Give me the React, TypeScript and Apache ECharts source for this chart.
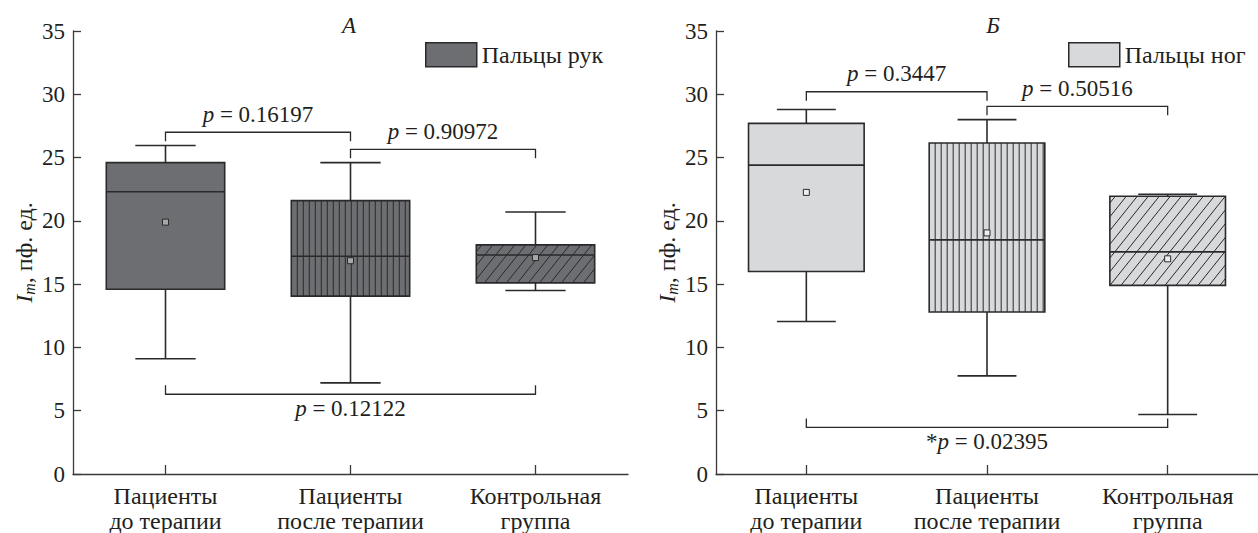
import React, { useEffect, useRef } from 'react';
import * as echarts from 'echarts';

// ---- categories & axis ----
const categories = ['Пациенты\nдо терапии', 'Пациенты\nпосле терапии', 'Контрольная\nгруппа'];
const yMin = 0;
const yMax = 35;
const yInterval = 5;
const panelTitles = ['А', 'Б'];
const legendNames = ['Пальцы рук', 'Пальцы ног'];
const yAxisName = '{i|I}{s|m}{r|, пф. ед.}';

// ---- panel A: fingers ----
const handsLow = [9.1, 7.2, 14.5];
const handsQ1 = [14.6, 14.05, 15.1];
const handsMedian = [22.3, 17.2, 17.3];
const handsQ3 = [24.6, 21.6, 18.1];
const handsHigh = [25.95, 24.6, 20.7];
const handsMean = [19.9, 16.85, 17.1];

// ---- panel Б: toes ----
const feetLow = [12.05, 7.75, 4.7];
const feetQ1 = [16.0, 12.8, 14.9];
const feetMedian = [24.4, 18.5, 17.55];
const feetQ3 = [27.7, 26.15, 21.95];
const feetHigh = [28.8, 28.0, 22.1];
const feetMean = [22.25, 19.05, 17.0];

// ---- significance brackets ----
const handsBracketFrom = [0, 1, 0];
const handsBracketTo = [1, 2, 2];
const handsBracketY = [27.0, 25.65, 6.3];
const handsBracketSide = ['top', 'top', 'bottom'];
const handsBracketP = ['p = 0.16197', 'p = 0.90972', 'p = 0.12122'];

const feetBracketFrom = [0, 1, 0];
const feetBracketTo = [1, 2, 2];
const feetBracketY = [30.2, 29.05, 3.68];
const feetBracketSide = ['top', 'top', 'bottom'];
const feetBracketP = ['p = 0.3447', 'p = 0.50516', '*p = 0.02395'];

const boxPatterns = ['none', 'vertical', 'diagonal'];

// ---- styles ----
const FONT = 'Liberation Serif';
const TEXT = '#231f20';
const LINE = '#2a2a2c';
const AXIS = '#3a3a3a';
const HANDS_FILL = '#6d6e71';
const FEET_FILL = '#d8d9db';
const FS = 23;
const FS_LABEL = 24;

function toRich(s: string) {
  const k = s.indexOf('p');
  const pre = s.slice(0, k);
  const post = s.slice(k + 1);
  return (pre ? `{t|${pre}}` : '') + '{i|p}' + `{t|${post}}`;
}

const pRich = {
  i: { fontFamily: FONT, fontSize: FS, fontStyle: 'italic', fill: TEXT, color: TEXT },
  t: { fontFamily: FONT, fontSize: FS, fill: TEXT, color: TEXT },
};

function makeBoxRender(fill: string, markFill: string) {
  return (params: any, api: any) => {
    const i = api.value(0);
    const lo = api.coord([i, api.value(1)]);
    const yQ1 = api.coord([i, api.value(2)])[1];
    const yMed = api.coord([i, api.value(3)])[1];
    const yQ3 = api.coord([i, api.value(4)])[1];
    const yHi = api.coord([i, api.value(5)])[1];
    const yMean = api.coord([i, api.value(6)])[1];
    const cx = lo[0];
    const yLo = lo[1];
    const band = api.size([1, 0])[0];
    const half = band * 0.32;
    const cap = band * 0.163;
    const x0 = cx - half;
    const x1 = cx + half;
    const h = yQ1 - yQ3;
    const children: any[] = [];
    children.push({ type: 'rect', shape: { x: x0, y: yQ3, width: 2 * half, height: h }, style: { fill, stroke: 'none' } });
    const pat = boxPatterns[params.dataIndex];
    const hatch = { stroke: LINE, lineWidth: 1 };
    if (pat === 'vertical') {
      for (let x = x0 + 6; x < x1 - 1; x += 6) {
        children.push({ type: 'line', shape: { x1: x, y1: yQ3, x2: x, y2: yQ1 }, style: hatch });
      }
    } else if (pat === 'diagonal') {
      const s = 0.8;
      const step = 11;
      for (let c = x0 - h * s + step / 2; c < x1; c += step) {
        let xa = c, ya = yQ1, xb = c + h * s, yb = yQ3;
        if (xa < x0) { ya = yQ1 - (x0 - c) / s; xa = x0; }
        if (xb > x1) { yb = yQ1 - (x1 - c) / s; xb = x1; }
        if (ya - yb > 0.5) {
          children.push({ type: 'line', shape: { x1: xa, y1: ya, x2: xb, y2: yb }, style: hatch });
        }
      }
    }
    const ls = { stroke: LINE, lineWidth: 1.6 };
    children.push({ type: 'rect', shape: { x: x0, y: yQ3, width: 2 * half, height: h }, style: { fill: 'none', stroke: LINE, lineWidth: 1.6 } });
    children.push({ type: 'line', shape: { x1: x0, y1: yMed, x2: x1, y2: yMed }, style: ls });
    children.push({ type: 'line', shape: { x1: cx, y1: yQ3, x2: cx, y2: yHi }, style: ls });
    children.push({ type: 'line', shape: { x1: cx - cap, y1: yHi, x2: cx + cap, y2: yHi }, style: ls });
    children.push({ type: 'line', shape: { x1: cx, y1: yQ1, x2: cx, y2: yLo }, style: ls });
    children.push({ type: 'line', shape: { x1: cx - cap, y1: yLo, x2: cx + cap, y2: yLo }, style: ls });
    children.push({ type: 'rect', shape: { x: cx - 3, y: yMean - 3, width: 6, height: 6 }, style: { fill: markFill, stroke: LINE, lineWidth: 1 } });
    return { type: 'group', children };
  };
}

function makeBracketRender(sides: string[], labels: string[]) {
  return (params: any, api: any) => {
    const a = api.coord([api.value(0), api.value(2)]);
    const b = api.coord([api.value(1), api.value(2)]);
    const side = sides[params.dataIndex];
    const tick = side === 'top' ? 9 : -9;
    const y = a[1];
    const text = toRich(labels[params.dataIndex]);
    const ty = side === 'top' ? y - 18 : y + 14;
    return {
      type: 'group',
      children: [
        {
          type: 'polyline',
          shape: { points: [[a[0], y + tick], [a[0], y], [b[0], y], [b[0], y + tick]] },
          style: { stroke: LINE, lineWidth: 1.3, fill: 'none' },
        },
        {
          type: 'text',
          x: (a[0] + b[0]) / 2,
          y: ty,
          style: {
            text,
            rich: pRich,
            fill: TEXT,
            fontFamily: FONT,
            fontSize: FS,
            align: 'center',
            verticalAlign: 'middle',
            textAlign: 'center',
            textVerticalAlign: 'middle',
          },
        },
      ],
    };
  };
}

function boxData(lo: number[], q1: number[], med: number[], q3: number[], hi: number[], mean: number[]) {
  return categories.map((_, i) => [i, lo[i], q1[i], med[i], q3[i], hi[i], mean[i]]);
}

function bracketData(from: number[], to: number[], ys: number[]) {
  return from.map((f, i) => [f, to[i], ys[i]]);
}

function xAxisCfg(gridIndex: number) {
  return {
    type: 'category',
    gridIndex,
    data: categories,
    boundaryGap: true,
    axisLine: { show: true, lineStyle: { color: AXIS, width: 1.3 } },
    axisTick: { show: true, inside: true, alignWithLabel: true, length: 9, lineStyle: { color: AXIS, width: 1.3 } },
    axisLabel: { fontFamily: FONT, fontSize: FS_LABEL, color: TEXT, lineHeight: 25, margin: 9, interval: 0 },
    splitLine: { show: false },
  };
}

function yAxisCfg(gridIndex: number) {
  return {
    type: 'value',
    gridIndex,
    min: yMin,
    max: yMax,
    interval: yInterval,
    name: yAxisName,
    nameLocation: 'middle',
    nameGap: 36,
    nameRotate: 90,
    nameTextStyle: {
      fontFamily: FONT,
      fontSize: FS_LABEL,
      color: TEXT,
      rich: {
        i: { fontFamily: FONT, fontSize: FS_LABEL, fontStyle: 'italic', color: TEXT },
        s: { fontFamily: FONT, fontSize: 16, fontStyle: 'italic', color: TEXT, padding: [10, 0, 0, 0] },
        r: { fontFamily: FONT, fontSize: FS_LABEL, color: TEXT },
      },
    },
    axisLine: { show: true, lineStyle: { color: AXIS, width: 1.3 } },
    axisTick: { show: true, inside: true, length: 8, lineStyle: { color: AXIS, width: 1.3 } },
    axisLabel: { fontFamily: FONT, fontSize: FS, color: TEXT, margin: 8 },
    splitLine: { show: false },
  };
}

function legendCfg(name: string, left: number, fill: string) {
  return {
    data: [name],
    left,
    top: 42,
    padding: 0,
    icon: 'rect',
    itemWidth: 51,
    itemHeight: 24,
    itemGap: 8,
    selectedMode: false,
    itemStyle: { color: fill, borderColor: LINE, borderWidth: 1.5 },
    textStyle: { fontFamily: FONT, fontSize: FS_LABEL, color: TEXT },
  };
}

export default function App() {
  const ref = useRef<HTMLDivElement>(null);
  useEffect(() => {
    if (!ref.current) return;
    const chart = echarts.init(ref.current, undefined, { renderer: 'svg' });
    chart.setOption({
      animation: false,
      backgroundColor: '#ffffff',
      textStyle: { fontFamily: FONT },
      grid: [
        { left: 73, top: 31, width: 555, height: 445 },
        { left: 716, top: 31, width: 553, height: 445 },
      ],
      xAxis: [xAxisCfg(0), xAxisCfg(1)],
      yAxis: [yAxisCfg(0), yAxisCfg(1)],
      legend: [legendCfg(legendNames[0], 425, HANDS_FILL), legendCfg(legendNames[1], 1068, FEET_FILL)],
      graphic: [
        {
          type: 'text', x: 349, y: 25,
          style: { text: panelTitles[0], fontFamily: FONT, fontSize: FS, fontStyle: 'italic', fill: TEXT, textAlign: 'center', textVerticalAlign: 'middle', align: 'center', verticalAlign: 'middle' },
        },
        {
          type: 'text', x: 993, y: 25,
          style: { text: panelTitles[1], fontFamily: FONT, fontSize: FS, fontStyle: 'italic', fill: TEXT, textAlign: 'center', textVerticalAlign: 'middle', align: 'center', verticalAlign: 'middle' },
        },
      ],
      series: [
        {
          type: 'custom', name: legendNames[0], xAxisIndex: 0, yAxisIndex: 0, clip: false,
          itemStyle: { color: HANDS_FILL },
          encode: { x: 0, y: [1, 5] },
          renderItem: makeBoxRender(HANDS_FILL, '#a7a8aa'),
          data: boxData(handsLow, handsQ1, handsMedian, handsQ3, handsHigh, handsMean),
        },
        {
          type: 'custom', name: 'brA', xAxisIndex: 0, yAxisIndex: 0, clip: false,
          encode: { x: [0, 1], y: 2 },
          renderItem: makeBracketRender(handsBracketSide, handsBracketP),
          data: bracketData(handsBracketFrom, handsBracketTo, handsBracketY),
        },
        {
          type: 'custom', name: legendNames[1], xAxisIndex: 1, yAxisIndex: 1, clip: false,
          itemStyle: { color: FEET_FILL },
          encode: { x: 0, y: [1, 5] },
          renderItem: makeBoxRender(FEET_FILL, '#eeeeee'),
          data: boxData(feetLow, feetQ1, feetMedian, feetQ3, feetHigh, feetMean),
        },
        {
          type: 'custom', name: 'brB', xAxisIndex: 1, yAxisIndex: 1, clip: false,
          encode: { x: [0, 1], y: 2 },
          renderItem: makeBracketRender(feetBracketSide, feetBracketP),
          data: bracketData(feetBracketFrom, feetBracketTo, feetBracketY),
        },
      ],
    });
    return () => chart.dispose();
  }, []);
  return <div ref={ref} style={{ position: 'fixed', left: 0, top: 0, width: 1258, height: 533 }} />;
}
